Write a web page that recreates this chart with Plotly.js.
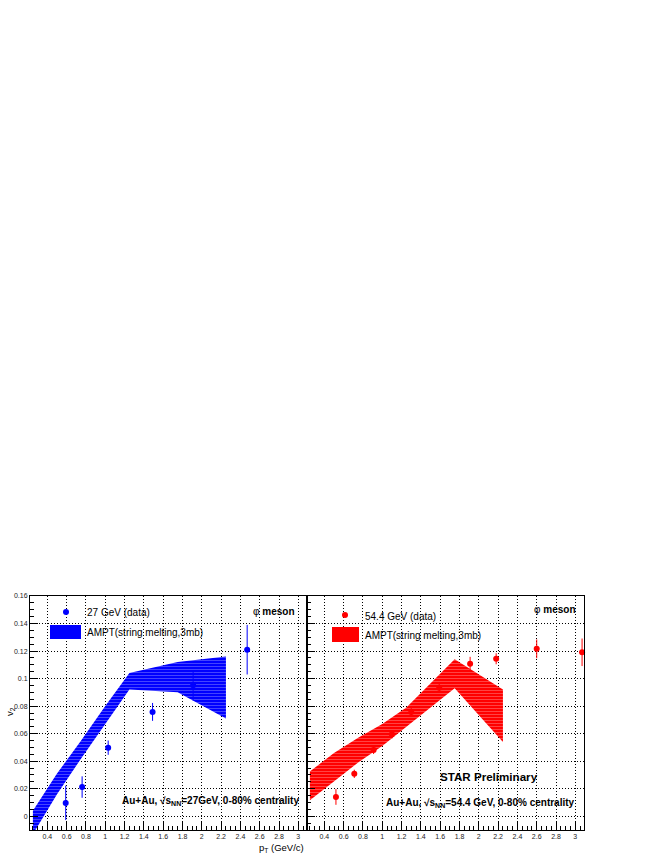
<!DOCTYPE html>
<html>
<head>
<meta charset="utf-8">
<script src="https://cdn.plot.ly/plotly-3.0.1.min.js"></script>
<style>
  html, body { margin: 0; padding: 0; background: #fff; }
  #chart { width: 664px; height: 860px; }
</style>
</head>
<body>
<div id="chart"></div>
<script>
// --- data: 27 GeV (left panel) ---
const pt27 = [0.59, 0.76, 1.03, 1.49, 1.91, 2.47];
const v2_27 = [0.0097, 0.0212, 0.0498, 0.0758, 0.0951, 0.121];
const err27 = [0.0125, 0.0078, 0.0052, 0.0065, 0.011, 0.018];

// --- data: 54.4 GeV (right panel) ---
const pt54 = [0.52, 0.71, 0.91, 1.10, 1.30, 1.59, 1.91, 2.18, 2.60, 3.07];
const v2_54 = [0.014, 0.0308, 0.0482, 0.0595, 0.0758, 0.0934, 0.1108, 0.1144, 0.1216, 0.1191];
const err54 = [0.0057, 0.003, 0.003, 0.003, 0.003, 0.003, 0.005, 0.004, 0.0068, 0.01];

// --- AMPT bands (upper / lower edge) ---
const amptPt = [0.25, 0.5, 0.75, 1.0, 1.25, 1.75, 2.25];
const ampt27Hi = [0.004, 0.031, 0.055, 0.080, 0.104, 0.112, 0.116];
const ampt27Lo = [-0.013, 0.016, 0.042, 0.067, 0.092, 0.090, 0.071];
const ampt54Hi = [0.0325, 0.046, 0.057, 0.067, 0.079, 0.114, 0.092];
const ampt54Lo = [0.0116, 0.025, 0.039, 0.051, 0.065, 0.093, 0.054];

const BLUE = 'rgb(0,0,255)';
const RED = 'rgb(255,0,0)';
const FONT = 'Liberation Sans, Arial, sans-serif';

// 像素 -> paper 坐标 (plot area: x 30..584, y 596..830)
const L = 30, R = 80, T = 596, B = 30, W = 664, H = 860;
const px = v => (v - L) / (W - L - R);
const py = v => (H - B - v) / (H - T - B);

function band(xs, hi, lo, color, xa, ya) {
    return {
        x: xs.concat(xs.slice().reverse()),
        y: hi.concat(lo.slice().reverse()),
        xaxis: xa, yaxis: ya,
        mode: 'lines',
        line: { width: 0, color: color },
        fill: 'toself',
        fillcolor: color,
        fillpattern: { shape: '-', bgcolor: color, fgcolor: 'white', fgopacity: 0.35, size: 3, solidity: 0.25 },
        hoverinfo: 'skip',
        showlegend: false
    };
}

function points(xs, ys, es, color, xa, ya) {
    return {
        x: xs, y: ys, xaxis: xa, yaxis: ya,
        mode: 'markers',
        type: 'scatter',
        marker: { color: color, size: 6 },
        error_y: { type: 'data', array: es, color: color, thickness: 1, width: 0 },
        cliponaxis: false,
        showlegend: false
    };
}

const traces = [
    band(amptPt, ampt27Hi, ampt27Lo, BLUE, 'x', 'y'),
    points(pt27, v2_27, err27, BLUE, 'x', 'y'),
    band(amptPt, ampt54Hi, ampt54Lo, RED, 'x2', 'y2'),
    points(pt54, v2_54, err54, RED, 'x2', 'y2')
];

function xAxis(domain, anchor) {
    return {
        domain: domain, anchor: anchor,
        range: [0.22, 3.09],
        tick0: 0, dtick: 0.2,
        ticks: 'inside', ticklen: 8, tickcolor: '#000', tickwidth: 1,
        minor: { ticks: 'inside', dtick: 0.05, ticklen: 4, tickcolor: '#000', showgrid: false },
        showgrid: true, gridcolor: '#000', gridwidth: 1, griddash: '1px,2px',
        zeroline: false,
        showline: true, linecolor: '#000', linewidth: 1, mirror: true,
        tickfont: { family: FONT, size: 7, color: '#222' },
        fixedrange: true
    };
}

function yAxis(anchor, labels) {
    return {
        anchor: anchor,
        domain: [0, 1],
        range: [-0.01, 0.16],
        tick0: 0, dtick: 0.02,
        ticks: 'inside', ticklen: 8, tickcolor: '#000', tickwidth: 1,
        minor: { ticks: 'inside', dtick: 0.005, ticklen: 4, tickcolor: '#000', showgrid: false },
        showgrid: true, gridcolor: '#000', gridwidth: 1, griddash: '1px,2px',
        zeroline: false,
        showline: true, linecolor: '#000', linewidth: 1, mirror: true,
        showticklabels: labels,
        tickfont: { family: FONT, size: 7, color: '#222' },
        fixedrange: true
    };
}

function text(x, y, s, size, opts) {
    return Object.assign({
        xref: 'paper', yref: 'paper', x: px(x), y: py(y),
        text: s, showarrow: false,
        xanchor: 'left', yanchor: 'middle',
        font: { family: FONT, size: size, color: '#000' }
    }, opts || {});
}

const annotations = [
    // 图例文字
    text(85, 612, '27 GeV (data)', 10),
    text(85, 632, 'AMPT(string melting,3mb)', 10),
    text(363, 616, '54.4 GeV (data)', 10),
    text(363, 635, 'AMPT(string melting,3mb)', 10),
    // 标签
    text(251, 611, 'φ <b>meson</b>', 10),
    text(532, 609, 'φ <b>meson</b>', 10),
    text(438, 776, '<b>STAR Preliminary</b>', 11.6),
    text(120, 801, '<b>Au+Au, √s<sub>NN</sub>=27GeV, 0-80% centrality</b>', 10),
    text(384, 803, '<b>Au+Au, √s<sub>NN</sub>=54.4 GeV, 0-80% centrality</b>', 10),
    // 轴标题
    text(306, 848, 'p<sub>T</sub> (GeV/c)', 9.5, { xanchor: 'right' }),
    text(10, 712, 'v<sub>2</sub>', 9.5, { xanchor: 'center', textangle: -90 })
];

const shapes = [
    // 图例符号
    { type: 'rect', xref: 'paper', yref: 'paper', x0: px(50), x1: px(81), y0: py(625), y1: py(639), fillcolor: BLUE, line: { width: 0 } },
    { type: 'circle', xref: 'paper', yref: 'paper', x0: px(63), x1: px(69), y0: py(609), y1: py(615), fillcolor: BLUE, line: { width: 0 } },
    { type: 'rect', xref: 'paper', yref: 'paper', x0: px(332), x1: px(359), y0: py(627), y1: py(642), fillcolor: RED, line: { width: 0 } },
    { type: 'circle', xref: 'paper', yref: 'paper', x0: px(342), x1: px(348), y0: py(612), y1: py(618), fillcolor: RED, line: { width: 0 } }
];

const layout = {
    width: W, height: H,
    margin: { l: L, r: R, t: T, b: B },
    paper_bgcolor: '#fff',
    plot_bgcolor: '#fff',
    showlegend: false,
    font: { family: FONT, size: 8, color: '#000' },
    xaxis: xAxis([0, 0.5], 'y'),
    xaxis2: xAxis([0.5, 1], 'y2'),
    yaxis: yAxis('x', true),
    yaxis2: yAxis('x2', false),
    annotations: annotations,
    shapes: shapes
};

Plotly.newPlot('chart', traces, layout, { displayModeBar: false, staticPlot: true });
</script>
</body>
</html>
